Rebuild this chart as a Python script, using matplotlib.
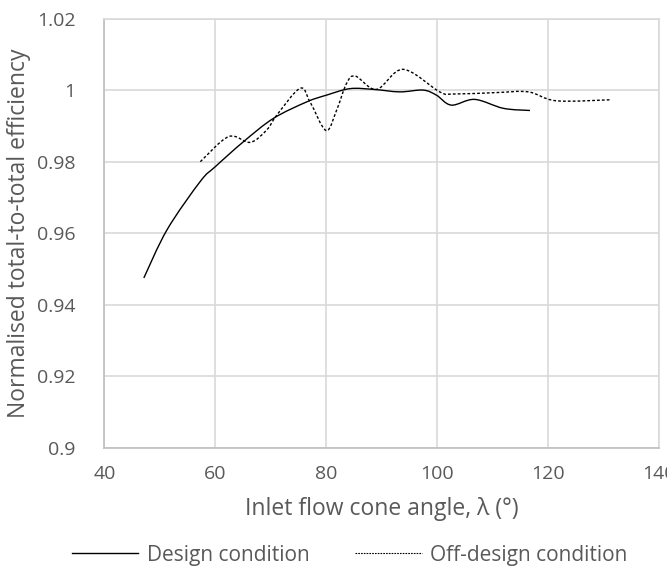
import matplotlib
matplotlib.use("Agg")
import matplotlib.pyplot as plt
from matplotlib.path import Path
from matplotlib.patches import PathPatch
from matplotlib.lines import Line2D
import numpy as np

plt.rcParams['font.family'] = ['Open Sans', 'DejaVu Sans']

# efficiency vs inlet cone angle
design_x = [47.1, 51.3, 57.3, 60.0, 65.1, 70.5, 76.5, 80.1, 84.3, 88.5, 93.3, 97.5, 99.9, 102.6, 106.8, 112.0, 116.8]
design_y = [0.9475, 0.9610, 0.9745, 0.9786, 0.9856, 0.9921, 0.9967, 0.9986, 1.0004, 1.0002, 0.9995, 1.0000, 0.9986, 0.9958, 0.9974, 0.9949, 0.9943]

offdesign_x = [57.3, 62.4, 66.3, 69.3, 71.1, 75.3, 77.1, 80.0, 81.9, 83.7, 85.3, 89.1, 93.9, 100.5, 103.0, 110.7, 116.5, 121.6, 131.5]
offdesign_y = [0.9800, 0.9870, 0.9854, 0.9889, 0.9930, 1.0005, 0.9967, 0.9887, 0.9944, 1.0019, 1.0039, 1.0002, 1.0058, 0.9995, 0.9989, 0.9993, 0.9995, 0.9970, 0.9973]

x_ticks = [40, 60, 80, 100, 120, 140]
y_ticks = [0.9, 0.92, 0.94, 0.96, 0.98, 1.0, 1.02]
y_labels = ["0.9", "0.92", "0.94", "0.96", "0.98", "1", "1.02"]

TXT = "#595959"
GRID = "#d9d9d9"


def smooth_path(xs, ys):
    # Catmull-Rom style cubic Bezier through the points (like a spreadsheet "smoothed line")
    p = np.column_stack([xs, ys])
    n = len(p)
    verts = [p[0]]
    codes = [Path.MOVETO]
    for i in range(n - 1):
        p0 = p[i - 1] if i > 0 else p[i]
        p3 = p[i + 2] if i + 2 < n else p[i + 1]
        c1 = p[i] + (p[i + 1] - p0) / 6
        c2 = p[i + 1] - (p3 - p[i]) / 6
        verts += [c1, c2, p[i + 1]]
        codes += [Path.CURVE4] * 3
    return Path(verts, codes)


fig = plt.figure(figsize=(6.67, 5.71), dpi=100)
ax = fig.add_axes([104.5 / 667, 1 - 448 / 571, 554 / 667, 429.5 / 571])

ax.add_patch(PathPatch(smooth_path(design_x, design_y), fill=False,
                       edgecolor="black", lw=1.0, zorder=3))
ax.add_patch(PathPatch(smooth_path(offdesign_x, offdesign_y), fill=False,
                       edgecolor="black", lw=1.0, linestyle=(0, (2, 1.5)), zorder=3))

ax.set_xlim(40, 140)
ax.set_ylim(0.9, 1.02)
ax.set_xticks(x_ticks)
ax.set_yticks(y_ticks)
ax.set_yticklabels(y_labels)
ax.grid(True, color=GRID, lw=1.2)
ax.set_axisbelow(True)
for s in ax.spines.values():
    s.set_color(GRID)
    s.set_linewidth(1.2)
ax.spines["left"].set_color("#bfbfbf")
ax.spines["bottom"].set_color("#bfbfbf")
ax.tick_params(length=0, labelsize=14, labelcolor=TXT)
ax.tick_params(axis="y", pad=21)
ax.tick_params(axis="x", pad=12)

ax.set_xlabel("Inlet flow cone angle, λ (°)", fontsize=16.5, color=TXT, labelpad=10)
ax.set_ylabel("Normalised total-to-total efficiency", fontsize=16.5, color=TXT, labelpad=4)

handles = [Line2D([], [], color="black", lw=1.0),
           Line2D([], [], color="black", lw=0.8, linestyle=(0, (1.5, 1)))]
fig.legend(handles, ["Design condition", "Off-design condition"], loc="center",
           bbox_to_anchor=(0.524, 0.028), ncol=2, frameon=False, fontsize=15,
           labelcolor=TXT, handlelength=3.2, columnspacing=2.2, handletextpad=0.4)

fig.savefig("out.png", dpi=100)
